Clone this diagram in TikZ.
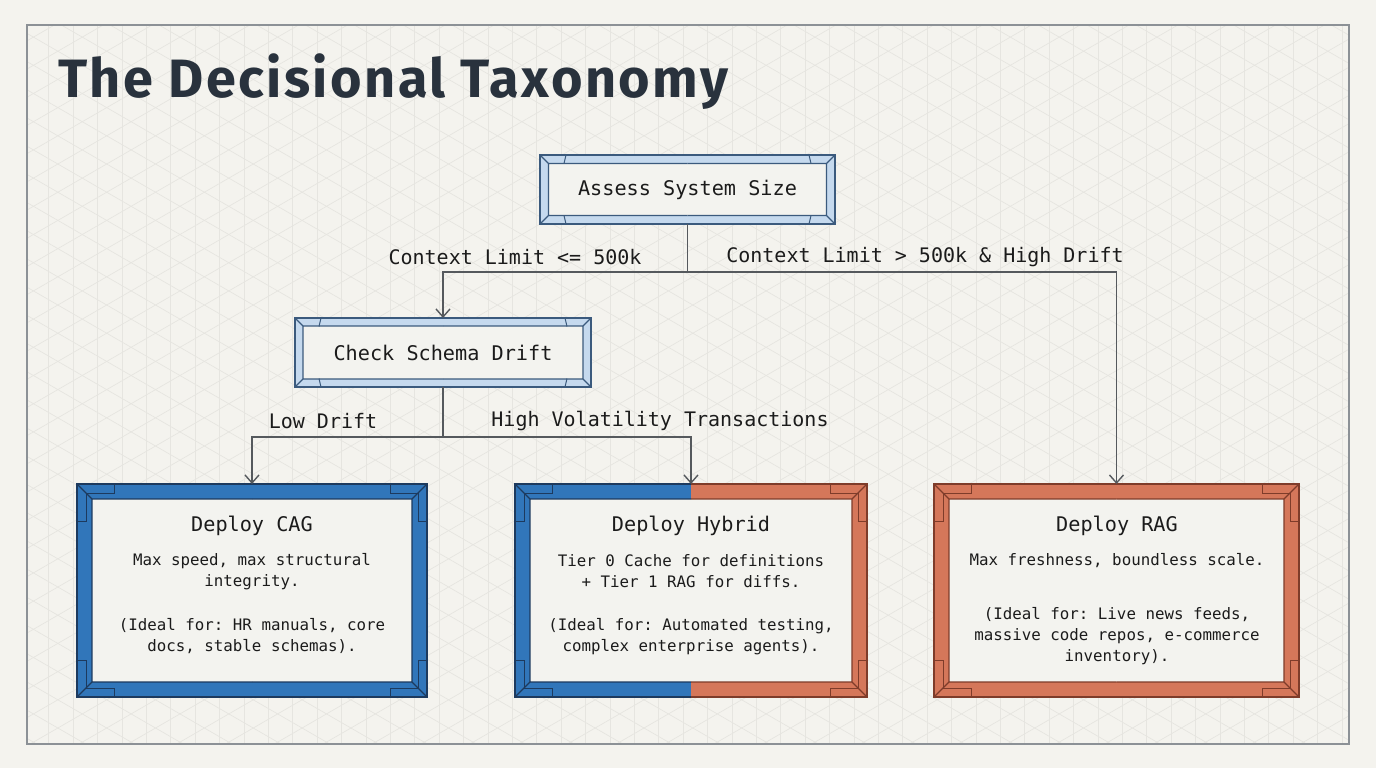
\documentclass[tikz,border=0pt]{standalone}
\usepackage{fontspec}
\setmainfont{Fira Sans}
\setmonofont{DejaVu Sans Mono}
\newfontfamily\titlefont{Fira Sans}[LetterSpace=4.5]
\usepackage{tikz}
\usetikzlibrary{arrows.meta}

\definecolor{paper}{HTML}{F4F3EE}
\definecolor{gridc}{HTML}{E6E5E0}
\definecolor{framegray}{HTML}{8C9196}
\definecolor{boxfill}{HTML}{F3F3EF}
\definecolor{lightblue}{HTML}{C5D9EE}
\definecolor{lineblue}{HTML}{3B5A7D}
\definecolor{cagblue}{HTML}{3176BA}
\definecolor{darkblue}{HTML}{1D3A5E}
\definecolor{ragorange}{HTML}{D5775A}
\definecolor{darkorange}{HTML}{7E3C2A}
\definecolor{inkc}{HTML}{1B1B1B}
\definecolor{titlec}{HTML}{29323D}
\definecolor{connc}{HTML}{55595D}

% bevelled frame round a box node: node, bevel, left fill, right fill, left line, right line
\newcommand{\bevelframe}[6]{%
  \fill[#4] (#1.north west) rectangle (#1.south east);
  \fill[#3] (#1.north west) rectangle (#1.south);
  \fill[boxfill] ([shift={(#2,-#2)}]#1.north west) rectangle ([shift={(-#2,#2)}]#1.south east);
  \draw[#5,line width=0.6pt]
    ([yshift=-#2]#1.north) -- ([shift={(#2,-#2)}]#1.north west)
      -- ([shift={(#2,#2)}]#1.south west) -- ([yshift=#2]#1.south)
    (#1.north west) -- ++(#2,-#2) (#1.south west) -- ++(#2,#2);
  \draw[#6,line width=0.6pt]
    ([yshift=-#2]#1.north) -- ([shift={(-#2,-#2)}]#1.north east)
      -- ([shift={(-#2,#2)}]#1.south east) -- ([yshift=#2]#1.south)
    (#1.north east) -- ++(-#2,-#2) (#1.south east) -- ++(-#2,#2);
  \draw[#5,line width=0.75pt] (#1.north) -- (#1.north west) -- (#1.south west) -- (#1.south);
  \draw[#6,line width=0.75pt] (#1.north) -- (#1.north east) -- (#1.south east) -- (#1.south);
}

% short ticks on the small frames
\newcommand{\smallticks}[2]{%
  \draw[#2,line width=0.5pt]
    ([xshift=13pt]#1.north west) -- ++(-1pt,-4.25pt)
    ([xshift=-13pt]#1.north east) -- ++(1pt,-4.25pt)
    ([xshift=13pt]#1.south west) -- ++(-1pt,4.25pt)
    ([xshift=-13pt]#1.south east) -- ++(1pt,4.25pt);
}

% corner bracket: anchor, x sign, y sign, colour
\newcommand{\cornerL}[4]{%
  \draw[#4,line width=0.5pt]
    ([shift={({#2*18.5pt},0pt)}]#1) -- ([shift={({#2*18.5pt},{#3*4.5pt})}]#1)
    -- ([shift={({#2*4.5pt},{#3*4.5pt})}]#1) -- ([shift={({#2*4.5pt},{#3*18.5pt})}]#1)
    -- ([shift={(0pt,{#3*18.5pt})}]#1);
}
\newcommand{\bigbrackets}[3]{%
  \cornerL{#1.north west}{1}{-1}{#2}
  \cornerL{#1.south west}{1}{1}{#2}
  \cornerL{#1.north east}{-1}{-1}{#3}
  \cornerL{#1.south east}{-1}{1}{#3}
}

\begin{document}
\begin{tikzpicture}[x=0.5pt,y=-0.5pt,
    boxnode/.style={rectangle,draw=none,inner sep=0pt,outer sep=0pt},
    head/.style={font=\ttfamily\fontsize{10.1}{12}\selectfont,text=inkc,inner sep=1pt},
    body/.style={font=\ttfamily\fontsize{7.9}{10.5}\selectfont,text=inkc,align=center,inner sep=1pt},
    lbl/.style={font=\ttfamily\fontsize{10}{12}\selectfont,text=inkc,inner sep=1pt},
    conn/.style={draw=connc,line width=0.7pt,-{Straight Barb[length=4pt,width=7pt]}},
    gridline/.style={draw=gridc,line width=0.35pt}]

    \useasboundingbox[fill=paper] (0,0) rectangle (1376,768);

    % Background grid
    \begin{scope}
      \clip (27,25) rectangle (1349,744);
      \foreach \gx in {0,24.4,...,1376}
        \draw[gridline] (\gx,0) -- (\gx,768);
      \foreach \gy in {-800,-771.8,...,800}
        \draw[gridline] (0,\gy) -- (1376,\gy+794.4);
      \foreach \gy in {0,28.2,...,1600}
        \draw[gridline] (0,\gy) -- (1376,\gy-794.4);
    \end{scope}
    \draw[framegray,line width=0.6pt] (27,25) rectangle (1349,744);

    % Title
    \node[anchor=base west,inner sep=0pt,text=titlec,
      font=\titlefont\bfseries\fontsize{27}{30}\selectfont] (title) at (58,97)
      {The Decisional Taxonomy};

    % Decision boxes
    \node[boxnode,minimum width=147.5pt,minimum height=34.5pt] (assess) at (687.5,189.5) {};
    \node[boxnode,minimum width=148pt,minimum height=34.5pt] (check) at (443,352.5) {};

    \bevelframe{assess}{4.25pt}{lightblue}{lightblue}{lineblue}{lineblue}
    \smallticks{assess}{lineblue}
    \bevelframe{check}{4pt}{lightblue}{lightblue}{lineblue}{lineblue}
    \smallticks{check}{lineblue}

    \node[head] (assessT) at (assess) {Assess System Size};
    \node[head] (checkT) at (check) {Check Schema Drift};

    % Outcome boxes
    \node[boxnode,minimum width=175pt,minimum height=106.5pt] (cag) at (252,590.5) {};
    \node[boxnode,minimum width=176pt,minimum height=106.5pt] (hybrid) at (691,590.5) {};
    \node[boxnode,minimum width=182.5pt,minimum height=106.5pt] (rag) at (1116.5,590.5) {};

    \bevelframe{cag}{7.5pt}{cagblue}{cagblue}{darkblue}{darkblue}
    \bigbrackets{cag}{darkblue}{darkblue}
    \bevelframe{hybrid}{7.5pt}{cagblue}{ragorange}{darkblue}{darkorange}
    \bigbrackets{hybrid}{darkblue}{darkorange}
    \bevelframe{rag}{7.5pt}{ragorange}{ragorange}{darkorange}{darkorange}
    \bigbrackets{rag}{darkorange}{darkorange}

    \node[head] (cagT) at (252,526) {Deploy CAG};
    \node[body] (cagA) at (252,571.5) {Max speed, max structural\\integrity.};
    \node[body] (cagB) at (252,636.5) {(Ideal for: HR manuals, core\\docs, stable schemas).};

    \node[head] (hybridT) at (691,526) {Deploy Hybrid};
    \node[body] (hybridA) at (691,571.5) {Tier 0 Cache for definitions\\+ Tier 1 RAG for diffs.};
    \node[body] (hybridB) at (691,636.5) {(Ideal for: Automated testing,\\complex enterprise agents).};

    \node[head] (ragT) at (1117,526) {Deploy RAG};
    \node[body] (ragA) at (1117,561) {Max freshness, boundless scale.};
    \node[body] (ragB) at (1117,636) {(Ideal for: Live news feeds,\\massive code repos, e-commerce\\inventory).};

    % Connectors
    \draw[conn] (assess.south) -- ++(0,48) -| (check.north);
    \draw[conn] (assess.south) -- ++(0,48) -| (rag.north);
    \draw[conn] (check.south) -- ++(0,50) -| (cag.north);
    \draw[conn] (check.south) -- ++(0,50) -| (hybrid.north);

    % Branch labels
    \node[lbl] (sizeLo) at (515,257) {Context Limit <= 500k};
    \node[lbl] (sizeHi) at (925,257) {Context Limit > 500k \& High Drift};
    \node[lbl] (driftLo) at (323,421) {Low Drift};
    \node[lbl] (driftHi) at (660,421) {High Volatility Transactions};

  \end{tikzpicture}
\end{document}
